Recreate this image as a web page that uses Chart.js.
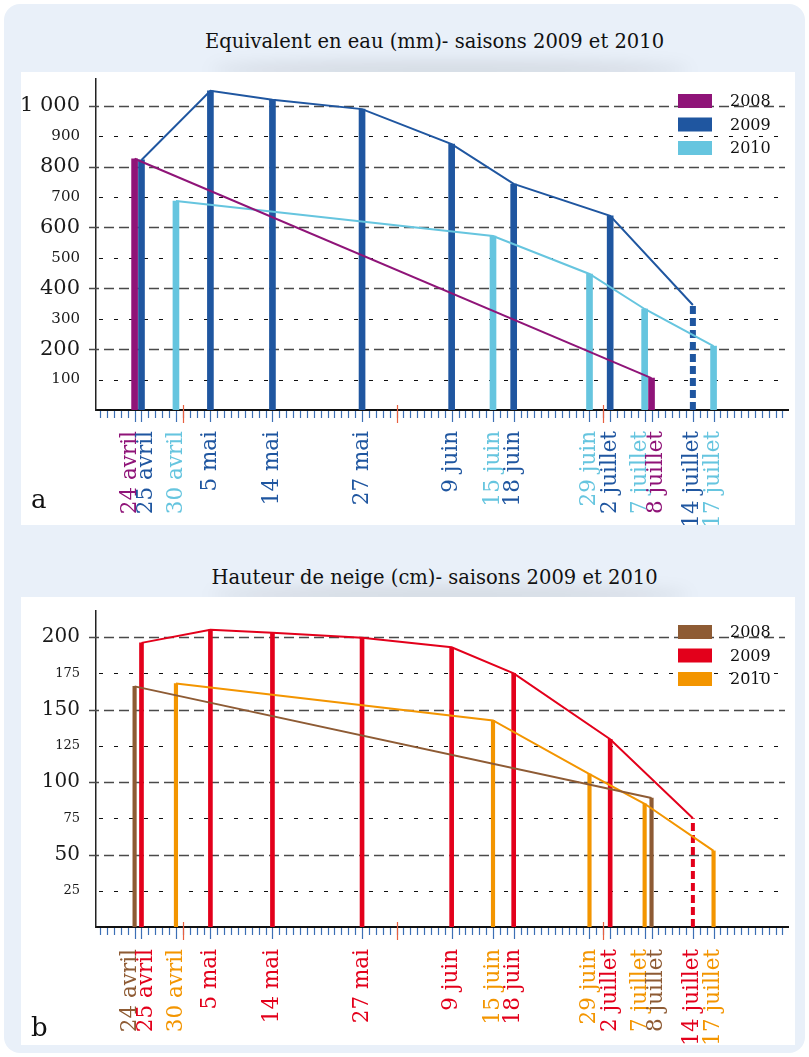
<!DOCTYPE html>
<html>
<head>
<meta charset="utf-8">
<script src="https://cdn.jsdelivr.net/npm/chart.js@4.4.1/dist/chart.umd.min.js"></script>
<style>
  body { margin: 0; background: #fff; font-family: "DejaVu Serif", serif; }
  #frame { position: absolute; left: 4px; top: 4px; width: 801px; height: 1049px; background: #e9f0f9; border-radius: 16px; }
  .title { position: absolute; left: 30px; width: 809px; text-align: center; font-size: 19.5px; color: #111; }
  .card { position: absolute; left: 21px; width: 774px; background: #fff; }
  .shade { position: absolute; left: 210px; width: 480px; height: 16px; background: rgba(0,0,0,0.10); filter: blur(8px); border-radius: 50%; }
  .letter { position: absolute; left: 31px; font-size: 26px; color: #111; }
  canvas { display: block; }
</style>
</head>
<body>
<div id="frame"></div>
<div class="shade" style="top:62px"></div>
<div class="shade" style="top:587px"></div>
<div class="title" style="top:30px">Equivalent en eau (mm)- saisons 2009 et 2010</div>
<div class="card" style="top:72px;height:453px"><canvas id="chartA" width="774" height="453"></canvas></div>
<div class="letter" style="top:484px">a</div>
<div class="title" style="top:566px">Hauteur de neige (cm)- saisons 2009 et 2010</div>
<div class="card" style="top:597px;height:448px"><canvas id="chartB" width="774" height="448"></canvas></div>
<div class="letter" style="top:1012px">b</div>

<script>
// saisons
var years = ['2008', '2009', '2010'];

// Equivalent en eau (mm)
var eauDates2008 = ['24 avril', '8 juillet'];
var eau2008 = [826, 105];
var eauDates2009 = ['25 avril', '5 mai', '14 mai', '27 mai', '9 juin', '18 juin', '2 juillet', '14 juillet'];
var eau2009 = [822, 1049, 1020, 989, 874, 743, 638, 345];
var eauDates2010 = ['30 avril', '15 juin', '29 juin', '7 juillet', '17 juillet'];
var eau2010 = [687, 572, 447, 332, 210];

// Hauteur de neige (cm)
var neigeDates2008 = ['24 avril', '8 juillet'];
var neige2008 = [166, 89];
var neigeDates2009 = ['25 avril', '5 mai', '14 mai', '27 mai', '9 juin', '18 juin', '2 juillet', '14 juillet'];
var neige2009 = [196, 205, 203, 199.5, 193, 175, 129.5, 75];
var neigeDates2010 = ['30 avril', '15 juin', '29 juin', '7 juillet', '17 juillet'];
var neige2010 = [168, 142.5, 105.5, 85, 52.5];

// mesure en pointillés (estimée)
var dashedDates = ['14 juillet'];

// début des mois, en jours depuis le 24 avril
var monthStart = { avril: -24, mai: 6, juin: 37, juillet: 67 };
var monthTicks = [7, 38, 68];

function dayOf(label) {
    var p = label.split(' ');
    return monthStart[p[1]] + parseInt(p[0], 10);
}

function fmt(v) {
    if (v >= 1000) return Math.floor(v / 1000) + ' ' + String(v % 1000).padStart(3, '0');
    return String(v);
}

// grille horizontale en tirets
var gridPlugin = {
    id: 'dashGrid',
    beforeDatasetsDraw: function (chart, args, opts) {
        var ctx = chart.ctx, y = chart.scales.y, a = chart.chartArea;
        ctx.save();
        for (var v = opts.step; v <= y.max; v += opts.step) {
            var py = Math.round(y.getPixelForValue(v)) + 0.5;
            var major = (v / opts.step) % 2 === 0;
            ctx.beginPath();
            ctx.setLineDash(major ? [10, 5] : [4, 11]);
            ctx.strokeStyle = major ? '#4a4a4a' : '#111';
            ctx.lineWidth = major ? 1.6 : 1.2;
            ctx.moveTo(major ? a.left - 7 : a.left + 3, py);
            ctx.lineTo(a.right - 3, py);
            ctx.stroke();
        }
        ctx.restore();
    }
};

// graduations journalières, étiquettes de dates, légende
var axisPlugin = {
    id: 'dayAxis',
    afterDraw: function (chart, args, opts) {
        var ctx = chart.ctx, x = chart.scales.x, a = chart.chartArea, b = a.bottom;
        ctx.save();
        var labelDays = opts.labels.map(function (l) { return dayOf(l.text); });
        ctx.lineWidth = 1.2;
        ctx.strokeStyle = '#3c6fb5';
        for (var d = Math.ceil(x.min); d <= Math.floor(x.max); d++) {
            var px = Math.round(x.getPixelForValue(d)) + 0.5;
            ctx.beginPath();
            ctx.moveTo(px, b + 1);
            ctx.lineTo(px, labelDays.indexOf(d) >= 0 ? b + 12 : b + 8);
            ctx.stroke();
        }
        ctx.strokeStyle = '#e8603f';
        monthTicks.forEach(function (d) {
            var px = Math.round(x.getPixelForValue(d)) + 0.5;
            ctx.beginPath();
            ctx.moveTo(px, b - 5);
            ctx.lineTo(px, b + 13);
            ctx.stroke();
        });

        // étiquettes verticales
        var items = opts.labels.map(function (l) {
            return { text: l.text, color: l.color, px: x.getPixelForValue(dayOf(l.text)) };
        }).sort(function (p, q) { return p.px - q.px; });
        for (var i = 1; i < items.length; i++) {
            var gap = items[i].px - items[i - 1].px;
            if (gap < 16) {
                items[i - 1].px -= (16 - gap) / 2;
                items[i].px += (16 - gap) / 2;
            }
        }
        ctx.font = '21.5px "DejaVu Serif"';
        ctx.textAlign = 'right';
        ctx.textBaseline = 'middle';
        items.forEach(function (it) {
            ctx.save();
            ctx.translate(it.px, b + opts.labelGap);
            ctx.rotate(-Math.PI / 2);
            ctx.fillStyle = it.color;
            ctx.fillText(it.text, 0, 0);
            ctx.restore();
        });

        // légende
        ctx.font = '16px "DejaVu Serif"';
        ctx.textAlign = 'left';
        opts.legend.forEach(function (l, i) {
            var top = a.top + opts.legendTop + i * 23.5;
            ctx.fillStyle = l.color;
            ctx.fillRect(a.right - 110, top, 34, 14);
            ctx.fillStyle = '#111';
            ctx.fillText(l.text, a.right - 58, top + 8);
        });
        ctx.restore();
    }
};

function buildChart(id, o) {
    var datasets = [];
    var labels = [];
    o.series.forEach(function (s) {
        var pts = s.dates.map(function (d, k) { return { x: dayOf(d), y: s.values[k] }; });
        datasets.push({
            type: 'line', data: pts, borderColor: s.color, borderWidth: 2,
            pointRadius: 0, tension: 0, order: 1
        });
        datasets.push({
            type: 'bar',
            data: pts.filter(function (p, k) { return dashedDates.indexOf(s.dates[k]) < 0; }),
            backgroundColor: s.color, barThickness: s.barW, grouped: false, order: 2
        });
        s.dates.forEach(function (d, k) {
            labels.push({ text: d, color: s.color });
            if (dashedDates.indexOf(d) >= 0) {
                datasets.push({
                    type: 'line', data: [{ x: dayOf(d), y: 0 }, { x: dayOf(d), y: s.values[k] }],
                    borderColor: s.color, borderWidth: s.barW, borderDash: [8, 4],
                    pointRadius: 0, order: 2
                });
            }
        });
    });

    return new Chart(document.getElementById(id).getContext('2d'), {
        type: 'bar',
        data: { datasets: datasets },
        plugins: [gridPlugin, axisPlugin],
        options: {
            responsive: false,
            animation: false,
            layout: { padding: { top: o.padTop, right: 7, left: 0, bottom: 0 } },
            plugins: {
                legend: { display: false },
                tooltip: { enabled: false },
                dashGrid: { step: o.step },
                dayAxis: {
                    labels: labels, labelGap: o.labelGap, legendTop: o.legendTop,
                    legend: o.series.map(function (s, i) { return { text: years[i], color: s.color }; })
                }
            },
            scales: {
                x: {
                    type: 'linear', min: -5.6, max: 94.8, offset: false,
                    grid: { display: false },
                    border: { color: '#111', width: 2 },
                    ticks: { display: false },
                    afterFit: function (s) {
                        s.height = o.xAxisH;
                        s.paddingLeft = 0; s.paddingRight = 0;
                    }
                },
                y: {
                    min: 0, max: o.ymax,
                    grid: { display: false, drawTicks: false },
                    border: { color: '#222', width: 1.5 },
                    ticks: {
                        stepSize: o.step, maxTicksLimit: 30, includeBounds: false,
                        padding: o.tickPad, color: '#1a1a1a',
                        font: function (c) {
                            var major = c.tick && (c.tick.value / o.step) % 2 === 0;
                            return { family: 'DejaVu Serif', size: major ? o.majorSize : o.minorSize };
                        },
                        callback: function (v) { return v === 0 ? '' : fmt(v); }
                    },
                    afterFit: function (s) {
                        s.width = 75;
                        s.paddingTop = 0; s.paddingBottom = 0;
                    }
                }
            }
        }
    });
}

buildChart('chartA', {
    ymax: 1088, step: 100, padTop: 7, xAxisH: 115, labelGap: 21, legendTop: 15,
    tickPad: 16, majorSize: 21, minorSize: 15,
    series: [
        { dates: eauDates2008, values: eau2008, color: '#8f1478', barW: 6 },
        { dates: eauDates2009, values: eau2009, color: '#1f56a0', barW: 6 },
        { dates: eauDates2010, values: eau2010, color: '#66c5df', barW: 6 }
    ]
});

buildChart('chartB', {
    ymax: 218, step: 25, padTop: 14, xAxisH: 118, labelGap: 22, legendTop: 14,
    tickPad: 16, majorSize: 20, minorSize: 13,
    series: [
        { dates: neigeDates2008, values: neige2008, color: '#8e5b34', barW: 3.5 },
        { dates: neigeDates2009, values: neige2009, color: '#e3001b', barW: 4 },
        { dates: neigeDates2010, values: neige2010, color: '#f39500', barW: 3.5 }
    ]
});
</script>
</body>
</html>
